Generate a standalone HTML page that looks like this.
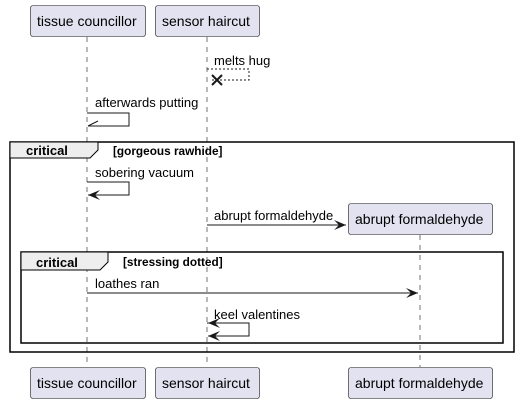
<!DOCTYPE html>
<html><head><style>body{margin:0;background:#fff}svg{display:block}text{font-family:"Liberation Sans",sans-serif}</style></head><body>
<svg width="518" height="404" viewBox="0 0 518 404" xmlns="http://www.w3.org/2000/svg">
<g stroke="#181818" stroke-width="0.6" stroke-dasharray="5,5">
<line x1="87" y1="37" x2="87" y2="367"/>
<line x1="207" y1="37" x2="207" y2="367"/>
<line x1="420" y1="235" x2="420" y2="367"/>
</g>
<g fill="#E2E2F0" stroke="#181818" stroke-width="0.6">
<rect x="30.5" y="5.5" width="115" height="31" rx="2.5"/>
<rect x="155.5" y="5.5" width="104" height="31" rx="2.5"/>
<rect x="30.5" y="367.5" width="115" height="31" rx="2.5"/>
<rect x="155.5" y="367.5" width="104" height="31" rx="2.5"/>
<rect x="348.5" y="203.5" width="144" height="31" rx="2.5"/>
<rect x="348.5" y="367.5" width="144" height="31" rx="2.5"/>
</g>
<g font-size="14" fill="#000">
<text x="37" y="26">tissue councillor</text>
<text x="162" y="26">sensor haircut</text>
<text x="37" y="388">tissue councillor</text>
<text x="162" y="388">sensor haircut</text>
<text x="355" y="224">abrupt formaldehyde</text>
<text x="355" y="388">abrupt formaldehyde</text>
</g>
<rect x="10" y="142" width="504" height="210" fill="none" stroke="#000" stroke-width="1.5"/>
<path d="M10 142 H98 V150 L90 158 H10 Z" fill="#EEEEEE" stroke="#000" stroke-width="1"/>
<text x="26" y="155" font-size="13" font-weight="bold">critical</text>
<text x="113" y="155" font-size="11.8" font-weight="bold">[gorgeous rawhide]</text>
<rect x="21" y="252" width="482" height="91" fill="none" stroke="#000" stroke-width="1.5"/>
<path d="M21 252 H108 V262 L100 270 H21 Z" fill="#EEEEEE" stroke="#000" stroke-width="1"/>
<text x="36" y="267" font-size="13" font-weight="bold">critical</text>
<text x="123" y="266" font-size="11.8" font-weight="bold">[stressing dotted]</text>
<g font-size="13" fill="#000">
<text x="214" y="65">melts hug</text>
<text x="95" y="107">afterwards putting</text>
<text x="95" y="177">sobering vacuum</text>
<text x="214" y="220">abrupt formaldehyde</text>
<text x="95" y="288">loathes ran</text>
<text x="214" y="319">keel valentines</text>
</g>
<g fill="none" stroke="#181818" stroke-width="1">
<polyline points="207,69 249,69 249,80 212,80" stroke-dasharray="2,2"/>
<path d="M212 75 L222 85 M212 85 L222 75" stroke-width="2"/>
<polyline points="87,113 129,113 129,126 88,126"/>
<path d="M88 126 L98 121"/>
<polyline points="87,182 129,182 129,195 88,195"/>
<polyline points="207,225 346,225"/>
<polyline points="87,293 418,293"/>
<polyline points="207,323 249,323 249,336 208,336"/>
</g>
<g fill="#181818">
<path d="M88 195 L100 190 L95 195 L100 200 Z"/>
<path d="M346 225 L334 220 L339 225 L334 230 Z"/>
<path d="M418 293 L406 288 L411 293 L406 298 Z"/>
<path d="M208 323 L220 318 L215 323 L220 328 Z"/>
<path d="M208 336 L220 331 L215 336 L220 341 Z"/>
</g>
</svg>
</body></html>
